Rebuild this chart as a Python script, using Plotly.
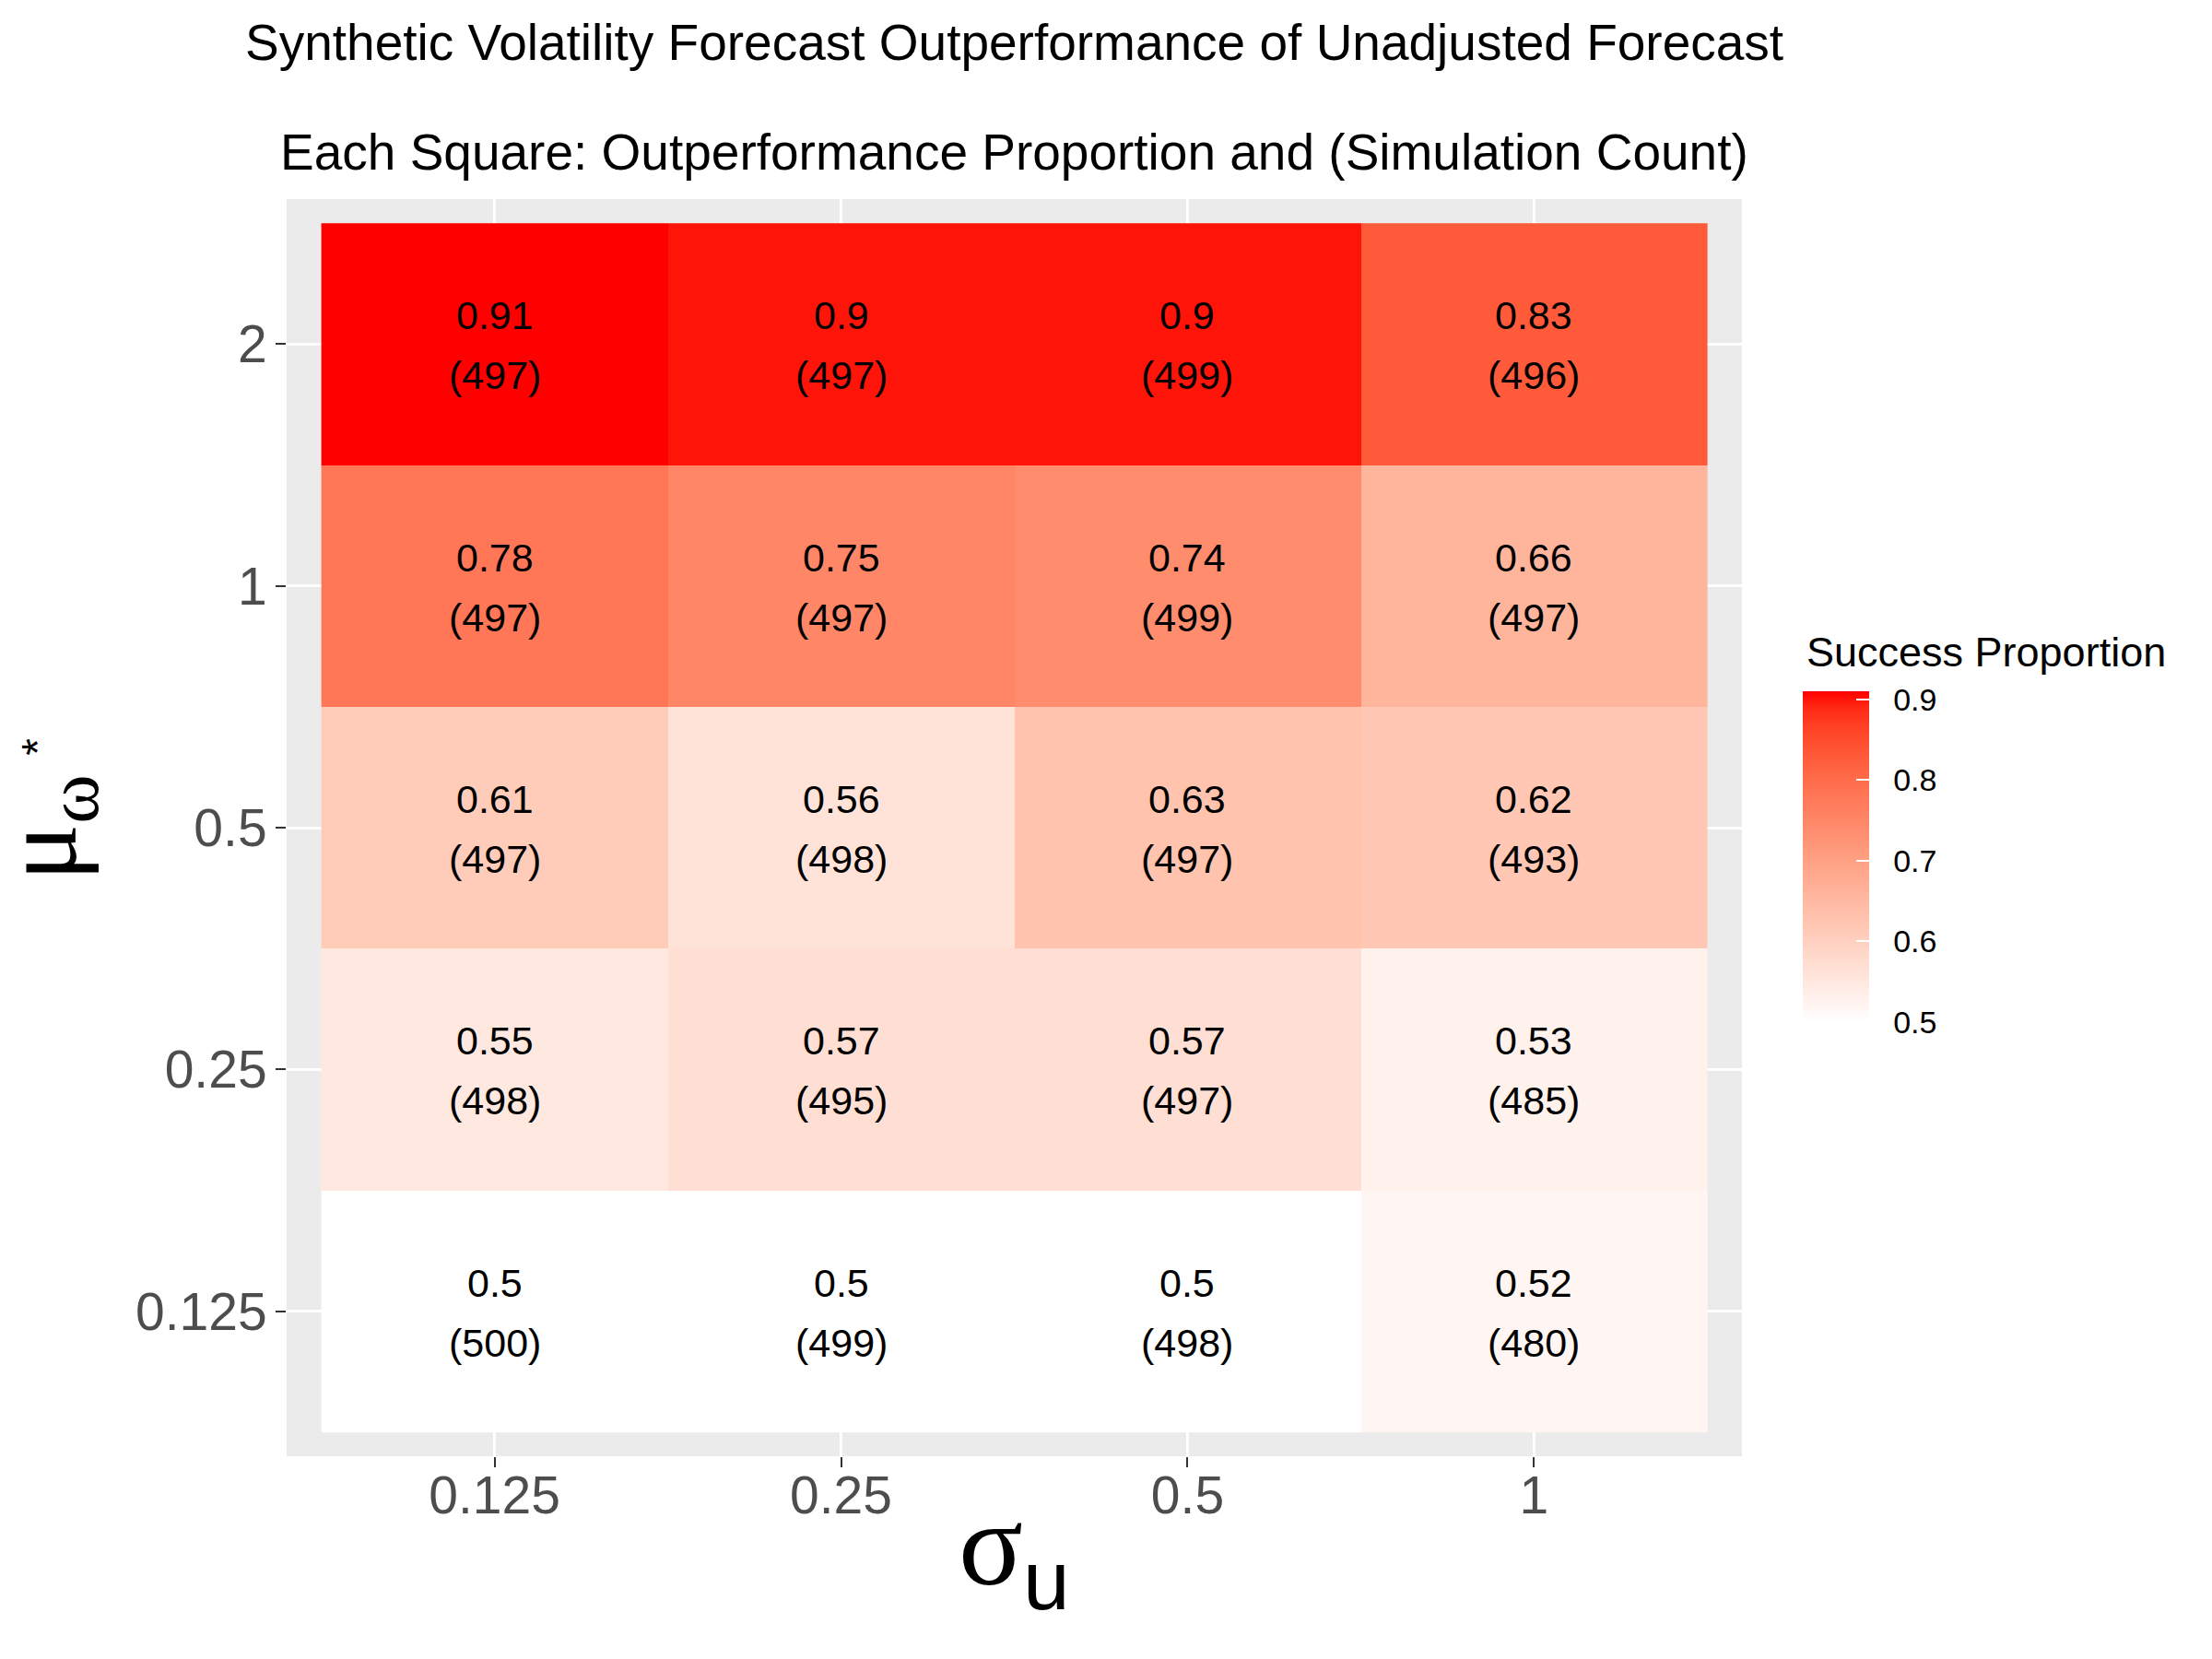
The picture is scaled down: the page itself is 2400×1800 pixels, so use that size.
import numpy as np
import plotly.graph_objects as go

# grid levels (bottom to top for mu, left to right for sigma)
sigma_levels = ["0.125", "0.25", "0.5", "1"]
mu_levels = ["0.125", "0.25", "0.5", "1", "2"]

# outperformance proportion, one row per mu level (bottom to top)
prop_0125 = [0.50, 0.50, 0.50, 0.52]
prop_025 = [0.55, 0.57, 0.57, 0.53]
prop_05 = [0.61, 0.56, 0.63, 0.62]
prop_1 = [0.78, 0.75, 0.74, 0.66]
prop_2 = [0.91, 0.90, 0.90, 0.83]

# simulation counts, same layout
n_0125 = [500, 499, 498, 480]
n_025 = [498, 495, 497, 485]
n_05 = [497, 498, 497, 493]
n_1 = [497, 497, 499, 497]
n_2 = [497, 497, 499, 496]

z = [prop_0125, prop_025, prop_05, prop_1, prop_2]
counts = [n_0125, n_025, n_05, n_1, n_2]


# white -> red gradient interpolated in CIELAB (like scale_fill_gradient)
def to_lab(rgb):
    c = np.array(rgb) / 255.0
    c = np.where(c > 0.04045, ((c + 0.055) / 1.055) ** 2.4, c / 12.92)
    m = np.array([[0.4124, 0.3576, 0.1805], [0.2126, 0.7152, 0.0722], [0.0193, 0.1192, 0.9505]])
    xyz = m @ c / np.array([0.95047, 1.0, 1.08883])
    f = np.where(xyz > 0.008856, np.cbrt(xyz), 7.787 * xyz + 16 / 116)
    return np.array([116 * f[1] - 16, 500 * (f[0] - f[1]), 200 * (f[1] - f[2])])


def from_lab(lab):
    fy = (lab[0] + 16) / 116
    fx = fy + lab[1] / 500
    fz = fy - lab[2] / 200
    f = np.array([fx, fy, fz])
    xyz = np.where(f ** 3 > 0.008856, f ** 3, (f - 16 / 116) / 7.787) * np.array([0.95047, 1.0, 1.08883])
    m = np.array([[3.2406, -1.5372, -0.4986], [-0.9689, 1.8758, 0.0415], [0.0557, -0.2040, 1.0570]])
    c = m @ xyz
    c = np.where(c > 0.0031308, 1.055 * np.clip(c, 0, None) ** (1 / 2.4) - 0.055, 12.92 * c)
    c = np.clip(np.round(c * 255), 0, 255).astype(int)
    return f"rgb({c[0]},{c[1]},{c[2]})"


lo, hi = to_lab((255, 255, 255)), to_lab((255, 0, 0))
colorscale = [[t, from_lab(lo + (hi - lo) * t)] for t in np.linspace(0, 1, 21)]

fig = go.Figure(go.Heatmap(
    x=sigma_levels, y=mu_levels, z=z,
    colorscale=colorscale, zmin=0.5, zmax=0.91,
    colorbar=dict(
        thickness=72, len=359, lenmode="pixels",
        x=1.0418, xanchor="left", y=0.6085, yanchor="top",
        xpad=0, ypad=0, outlinewidth=0,
        tick0=0.5, dtick=0.1, ticks="inside", ticklen=14, tickwidth=2, tickcolor="white",
        tickprefix="\u00a0\u00a0",
        tickfont=dict(family="Liberation Sans", size=34, color="black"),
    ),
))

# cell labels: proportion on the first line, simulation count below
# (category axes place annotations by category index)
cell_font = dict(family="Liberation Sans", size=43, color="black")
cell_notes = []
for i in range(len(mu_levels)):
    for j in range(len(sigma_levels)):
        cell_notes.append(dict(x=j, y=i, text=f"{z[i][j]:g}", yshift=31,
                               showarrow=False, font=cell_font))
        cell_notes.append(dict(x=j, y=i, text=f"({counts[i][j]})", yshift=-34,
                               showarrow=False, font=cell_font))

axis_common = dict(
    showgrid=True, gridcolor="white", gridwidth=2.5,
    ticks="outside", ticklen=11, tickwidth=2.2, tickcolor="#333333",
    tickfont=dict(family="Liberation Sans", size=57, color="#4D4D4D"),
    zeroline=False, showline=False,
)
fig.update_xaxes(type="category", categoryorder="array", categoryarray=sigma_levels,
                 range=[-0.6, 3.6], ticklabelstandoff=-18, **axis_common)
fig.update_yaxes(type="category", categoryorder="array", categoryarray=mu_levels,
                 range=[-0.6, 4.6], ticklabelstandoff=-2, **axis_common)

greek = "font-family:'Liberation Serif'"
fig.update_layout(
    width=2392, height=1792,
    margin=dict(l=303, r=510, t=208, b=220),
    plot_bgcolor="#EBEBEB", paper_bgcolor="white",
    font=dict(family="Liberation Sans", color="black"),
    annotations=cell_notes + [
        dict(text="Synthetic Volatility Forecast Outperformance of Unadjusted Forecast",
             xref="paper", yref="paper", x=0.5, y=1.1246, xanchor="center", yanchor="middle",
             showarrow=False, font=dict(size=55, color="black")),
        dict(text="Each Square: Outperformance Proportion and (Simulation Count)",
             xref="paper", yref="paper", x=0.5, y=1.0374, xanchor="center", yanchor="middle",
             showarrow=False, font=dict(size=55, color="black")),
        dict(text="Success Proportion",
             xref="paper", yref="paper", x=1.0431, y=0.640, xanchor="left", yanchor="middle",
             showarrow=False, font=dict(size=45, color="black")),
        dict(text=f"<span style=\"{greek}\">σ</span><sub>u</sub>",
             xref="paper", yref="paper", x=0.5, y=0, yshift=-104, xanchor="center", yanchor="middle",
             showarrow=False, font=dict(size=130, color="black")),
        dict(text=f"<span style=\"{greek}\">μ<sub>ω</sub></span>",
             xref="paper", yref="paper", x=0, xshift=-260, y=0.5, xanchor="center", yanchor="middle",
             textangle=-90, showarrow=False, font=dict(size=116, color="black")),
        dict(text="*",
             xref="paper", yref="paper", x=0, xshift=-270, y=0.5640, xanchor="center", yanchor="middle",
             textangle=-90, showarrow=False, font=dict(size=48, color="black")),
    ],
)

fig.write_html("out.html")
